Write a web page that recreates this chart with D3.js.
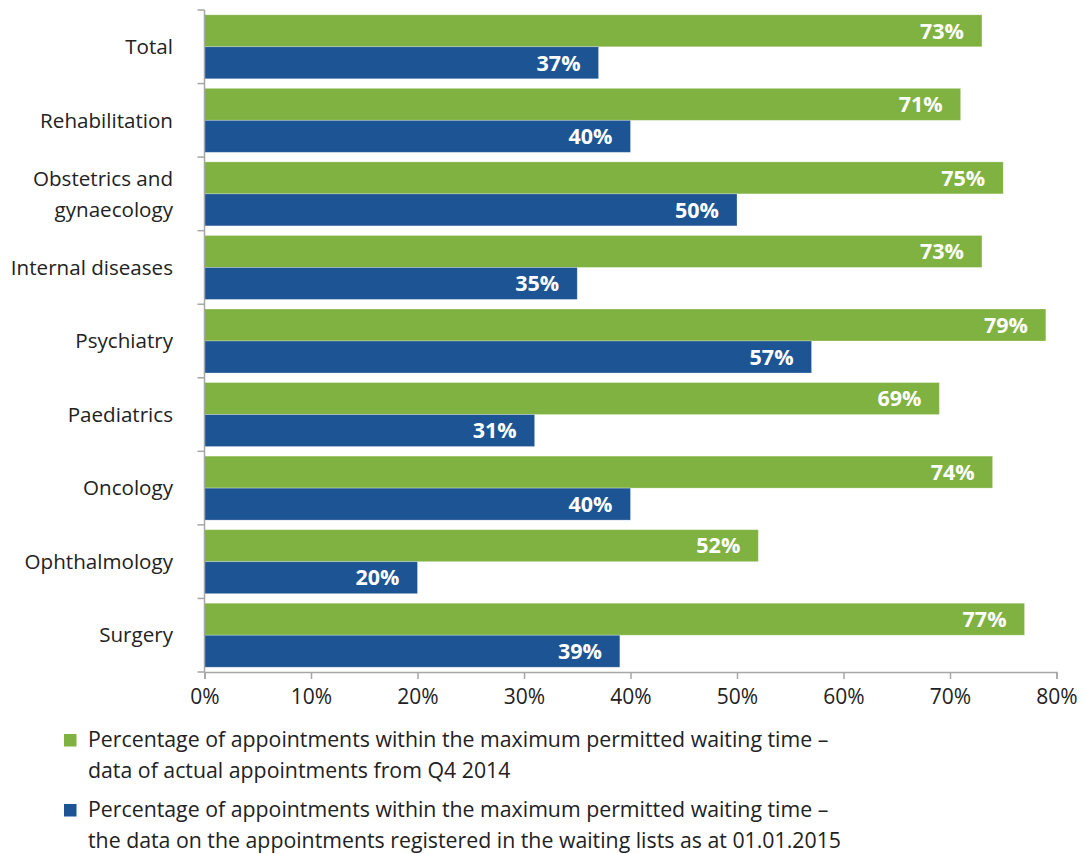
<!DOCTYPE html>
<html>
<head>
<meta charset="utf-8">
<script src="https://cdn.jsdelivr.net/npm/d3@7/dist/d3.min.js"></script>
<style>
  html, body { margin: 0; padding: 0; background: #fff; }
  svg { display: block; }
  text { font-family: "Open Sans", "Noto Sans", sans-serif; }
</style>
</head>
<body>
<svg id="chart" width="1085" height="854"></svg>
<script>
// Departments, top to bottom
const categories = [
  "Total", "Rehabilitation", "Obstetrics and\ngynaecology", "Internal diseases",
  "Psychiatry", "Paediatrics", "Oncology", "Ophthalmology", "Surgery"
];
// Share of appointments within the maximum permitted waiting time (%)
const actualQ4 = [73, 71, 75, 73, 79, 69, 74, 52, 77];
const waitingLists = [37, 40, 50, 35, 57, 31, 40, 20, 39];
const xTicks = [0, 10, 20, 30, 40, 50, 60, 70, 80];
const seriesNames = [
  ["Percentage of appointments within the maximum permitted waiting time –",
   "data of actual appointments from Q4 2014"],
  ["Percentage of appointments within the maximum permitted waiting time –",
   "the data on the appointments registered in the waiting lists as at 01.01.2015"]
];
const colors = ["#80b241", "#1d5493"];

const svg = d3.select("#chart");
const margin = { left: 204.5, right: 1056.5, top: 10, bottom: 672 };

const x = d3.scaleLinear().domain([0, 80]).range([margin.left, margin.right]);
const y = d3.scaleBand().domain(d3.range(categories.length))
  .range([margin.top, margin.bottom]).paddingInner(0.13).paddingOuter(0.065);
const sub = d3.scaleBand().domain([0, 1]).range([0, y.bandwidth()]);

const rows = categories.map((c, i) => ({ i, c, vals: [actualQ4[i], waitingLists[i]] }));

// bars with value labels inside the bar end
const g = svg.append("g");
rows.forEach(r => {
  r.vals.forEach((v, s) => {
    const yy = y(r.i) + sub(s);
    g.append("rect")
      .attr("x", x(0)).attr("y", yy)
      .attr("width", x(v) - x(0)).attr("height", sub.bandwidth())
      .attr("fill", colors[s])
      .attr("stroke", "#fff").attr("stroke-opacity", 0.35).attr("stroke-width", 0.8);
    g.append("text")
      .attr("x", x(v) - 18).attr("y", yy + sub.bandwidth() / 2)
      .attr("dy", "0.36em").attr("text-anchor", "end")
      .attr("fill", "#fff").attr("font-weight", 700).attr("font-size", 21.5)
      .text(v + "%");
  });
});

// category axis with boundary ticks
const step = (margin.bottom - margin.top) / categories.length;
const yAx = svg.append("g");
yAx.append("line")
  .attr("x1", margin.left).attr("x2", margin.left)
  .attr("y1", margin.top).attr("y2", margin.bottom)
  .attr("stroke", "#a6a6a6").attr("stroke-width", 1.5);
d3.range(categories.length + 1).forEach(k => {
  yAx.append("line")
    .attr("x1", margin.left - 7).attr("x2", margin.left)
    .attr("y1", margin.top + k * step).attr("y2", margin.top + k * step)
    .attr("stroke", "#a6a6a6").attr("stroke-width", 1.5);
});
rows.forEach(r => {
  const lines = r.c.split("\n");
  const cy = margin.top + (r.i + 0.5) * step;
  const t = yAx.append("text")
    .attr("text-anchor", "end").attr("font-size", 20.6).attr("fill", "#222");
  lines.forEach((ln, k) => {
    t.append("tspan").attr("x", 173)
      .attr("y", cy + (k - (lines.length - 1) / 2) * 31)
      .attr("dy", "0.35em").text(ln);
  });
});

// value axis
const xAxis = d3.axisBottom(x).tickValues(xTicks).tickSize(7).tickPadding(10)
  .tickFormat(d => d + "%");
const xg = svg.append("g").attr("transform", `translate(0,${margin.bottom})`).call(xAxis);
xg.select(".domain").attr("stroke", "#a6a6a6").attr("stroke-width", 1.5);
xg.selectAll(".tick line").attr("stroke", "#a6a6a6").attr("stroke-width", 1.5);
xg.selectAll(".tick text")
  .attr("font-size", 21).attr("fill", "#222")
  .attr("font-family", "'Open Sans', sans-serif");

// legend
const legendTop = [740, 810];
seriesNames.forEach((lines, s) => {
  const ly = legendTop[s];
  svg.append("rect").attr("x", 64).attr("y", ly - 6).attr("width", 12.5).attr("height", 12.5)
    .attr("fill", colors[s]);
  const t = svg.append("text").attr("font-size", 21.3).attr("fill", "#222");
  lines.forEach((ln, k) => {
    t.append("tspan").attr("x", 88).attr("y", ly + k * 31).attr("dy", "0.35em").text(ln);
  });
});
</script>
</body>
</html>
